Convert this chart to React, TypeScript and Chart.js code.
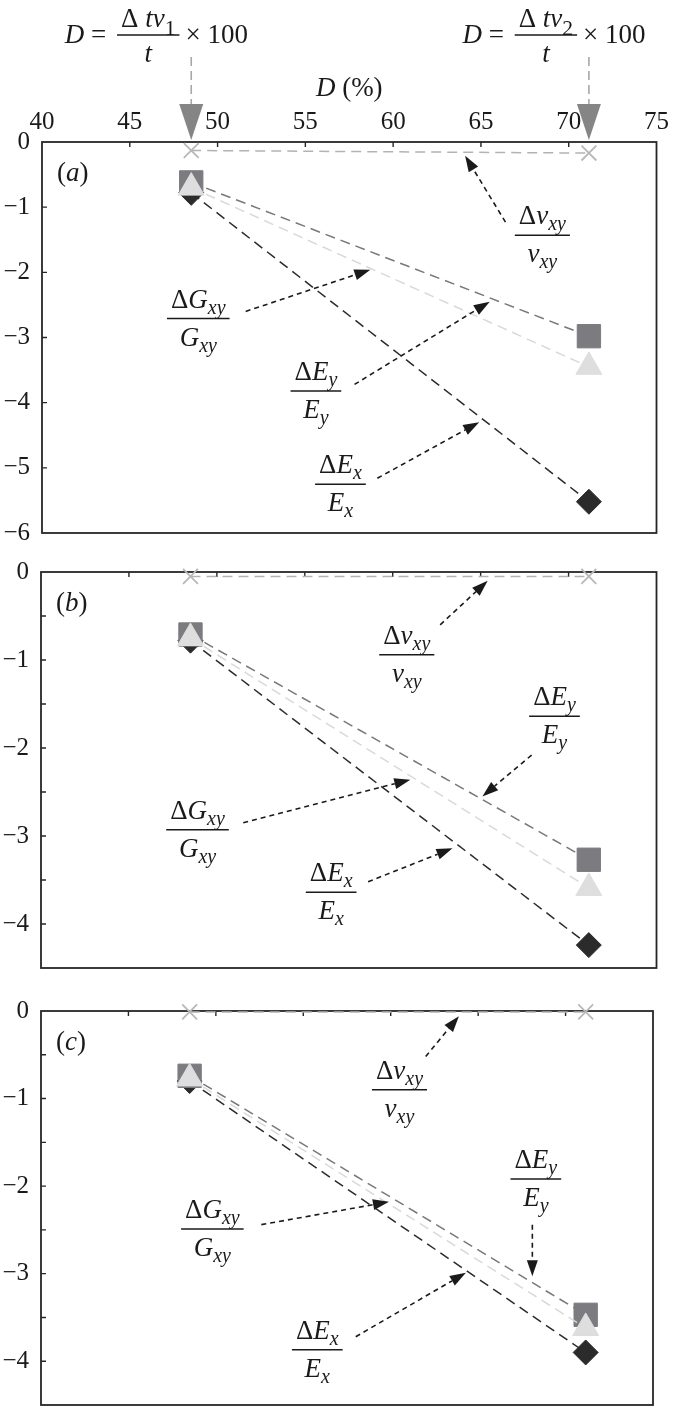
import React, { useEffect, useRef } from "react";
import { Chart, registerables } from "chart.js";

Chart.register(...registerables);

// ---------- data ----------
const D_VALUES = [48.5, 71.15]; // D (%) of the two cases
const X_TICKS = [40, 45, 50, 55, 60, 65, 70, 75];
const Y_TICKS_A = [-6, -5, -4, -3, -2, -1, 0];
const Y_TICKS_BC = [-4, -3, -2, -1, 0];
const Y_MINOR_A: number[] = [];
const Y_MINOR_BC = [-0.5, -1.5, -2.5, -3.5];

const A_NU = [-0.13, -0.17];
const A_GXY = [-0.62, -2.98];
const A_EY = [-0.7, -3.45];
const A_EX = [-0.78, -5.52];

const B_NU = [-0.05, -0.05];
const B_GXY = [-0.71, -3.27];
const B_EY = [-0.75, -3.59];
const B_EX = [-0.78, -4.24];

const C_NU = [-0.01, -0.01];
const C_GXY = [-0.74, -3.47];
const C_EY = [-0.77, -3.62];
const C_EX = [-0.8, -3.9];

// annotation anchors (data coordinates): fraction bar centre
const A_LABELS = { nu: [68.5, -1.43], gxy: [48.9, -2.71], ey: [55.6, -3.82], ex: [57.0, -5.25] };
const B_LABELS = { nu: [60.8, -0.94], gxy: [48.9, -2.93], ey: [69.2, -1.64], ex: [56.5, -3.64] };
const C_LABELS = { nu: [60.5, -0.9], gxy: [49.8, -2.49], ey: [68.3, -1.92], ex: [55.8, -3.87] };

// annotation arrows (data coordinates): tail x, tail y, tip x, tip y
const A_ARROWS = [
  [66.4, -1.23, 64.1, -0.21],
  [51.6, -2.6, 58.7, -1.96],
  [57.8, -3.72, 65.5, -2.45],
  [59.1, -5.16, 64.9, -4.3],
];
const B_ARROWS = [
  [62.7, -0.6, 65.4, -0.1],
  [67.9, -2.08, 65.1, -2.55],
  [51.5, -2.85, 61.0, -2.36],
  [58.6, -3.52, 63.4, -3.14],
];
const C_ARROWS = [
  [62.0, -0.52, 63.9, -0.06],
  [68.1, -2.44, 68.1, -3.03],
  [52.6, -2.44, 59.9, -2.18],
  [58.0, -3.72, 64.3, -2.99],
];

// ---------- styles ----------
const FONT = '"Liberation Serif", "DejaVu Serif", serif';
const INK = "#1a1a1a";

type Seg = { t: string; it?: boolean; sub?: boolean };

const FRACS: Record<string, { num: Seg[]; den: Seg[] }> = {
  nu: {
    num: [{ t: "Δ" }, { t: "ν", it: true }, { t: "xy", it: true, sub: true }],
    den: [{ t: "ν", it: true }, { t: "xy", it: true, sub: true }],
  },
  gxy: {
    num: [{ t: "Δ" }, { t: "G", it: true }, { t: "xy", it: true, sub: true }],
    den: [{ t: "G", it: true }, { t: "xy", it: true, sub: true }],
  },
  ey: {
    num: [{ t: "Δ" }, { t: "E", it: true }, { t: "y", it: true, sub: true }],
    den: [{ t: "E", it: true }, { t: "y", it: true, sub: true }],
  },
  ex: {
    num: [{ t: "Δ" }, { t: "E", it: true }, { t: "x", it: true, sub: true }],
    den: [{ t: "E", it: true }, { t: "x", it: true, sub: true }],
  },
};

function segFont(s: Seg, size: number, subScale: number) {
  const px = s.sub ? size * subScale : size;
  return `${s.it ? "italic " : ""}${px}px ${FONT}`;
}
function segsWidth(ctx: CanvasRenderingContext2D, segs: Seg[], size: number, subScale: number) {
  let w = 0;
  for (const s of segs) {
    ctx.font = segFont(s, size, subScale);
    w += ctx.measureText(s.t).width;
  }
  return w;
}
function drawSegs(
  ctx: CanvasRenderingContext2D,
  segs: Seg[],
  x: number,
  y: number,
  size: number,
  subScale: number,
  subShift: number
) {
  ctx.textAlign = "left";
  ctx.textBaseline = "alphabetic";
  let cx = x;
  for (const s of segs) {
    ctx.font = segFont(s, size, subScale);
    ctx.fillText(s.t, cx, y + (s.sub ? subShift : 0));
    cx += ctx.measureText(s.t).width;
  }
  return cx;
}
function drawFrac(
  ctx: CanvasRenderingContext2D,
  cx: number,
  cy: number,
  num: Seg[],
  den: Seg[],
  o: { size: number; subScale: number; subShift: number; numOff: number; denOff: number; extra: number }
) {
  const wn = segsWidth(ctx, num, o.size, o.subScale);
  const wd = segsWidth(ctx, den, o.size, o.subScale);
  const L = Math.max(wn, wd) + o.extra;
  ctx.strokeStyle = INK;
  ctx.lineWidth = 1.5;
  ctx.setLineDash([]);
  ctx.beginPath();
  ctx.moveTo(cx - L / 2, cy);
  ctx.lineTo(cx + L / 2, cy);
  ctx.stroke();
  ctx.fillStyle = INK;
  drawSegs(ctx, num, cx - wn / 2, cy - o.numOff, o.size, o.subScale, o.subShift);
  drawSegs(ctx, den, cx - wd / 2, cy + o.denOff, o.size, o.subScale, o.subShift);
  return L;
}
function drawArrow(ctx: CanvasRenderingContext2D, x1: number, y1: number, x2: number, y2: number) {
  const ang = Math.atan2(y2 - y1, x2 - x1);
  const hl = 16;
  const hw = 5.5;
  const bx = x2 - hl * Math.cos(ang);
  const by = y2 - hl * Math.sin(ang);
  ctx.strokeStyle = INK;
  ctx.lineWidth = 1.6;
  ctx.setLineDash([5, 4]);
  ctx.beginPath();
  ctx.moveTo(x1, y1);
  ctx.lineTo(bx, by);
  ctx.stroke();
  ctx.setLineDash([]);
  ctx.fillStyle = INK;
  ctx.beginPath();
  ctx.moveTo(x2, y2);
  ctx.lineTo(bx + hw * Math.sin(ang), by - hw * Math.cos(ang));
  ctx.lineTo(bx - hw * Math.sin(ang), by + hw * Math.cos(ang));
  ctx.closePath();
  ctx.fill();
}

const PLOT_FRAC = { size: 27, subScale: 0.74, subShift: 6, numOff: 11, denOff: 27, extra: 8 };
const HEAD_FRAC = { size: 27, subScale: 0.8, subShift: 8, numOff: 8, denOff: 27, extra: 8 };

type PanelCfg = {
  id: string;
  tag: string;
  top: number;
  height: number;
  areaTop: number;
  axisW: number;
  rightPad: number;
  bottomPad: number;
  yMin: number;
  yTicks: number[];
  yMinor: number[];
  nu: number[];
  gxy: number[];
  ey: number[];
  ex: number[];
  labels: Record<string, number[]>;
  arrows: number[][];
  header: boolean;
};

const PANELS: PanelCfg[] = [
  {
    id: "a", tag: "a", top: 0, height: 560, areaTop: 142, axisW: 42, rightPad: 12, bottomPad: 23,
    yMin: -6, yTicks: Y_TICKS_A, yMinor: Y_MINOR_A,
    nu: A_NU, gxy: A_GXY, ey: A_EY, ex: A_EX, labels: A_LABELS, arrows: A_ARROWS, header: true,
  },
  {
    id: "b", tag: "b", top: 545, height: 450, areaTop: 27, axisW: 41, rightPad: 14, bottomPad: 26,
    yMin: -4.5, yTicks: Y_TICKS_BC, yMinor: Y_MINOR_BC,
    nu: B_NU, gxy: B_GXY, ey: B_EY, ex: B_EX, labels: B_LABELS, arrows: B_ARROWS, header: false,
  },
  {
    id: "c", tag: "c", top: 975, height: 460, areaTop: 36, axisW: 41, rightPad: 21, bottomPad: 30,
    yMin: -4.5, yTicks: Y_TICKS_BC, yMinor: Y_MINOR_BC,
    nu: C_NU, gxy: C_GXY, ey: C_EY, ex: C_EX, labels: C_LABELS, arrows: C_ARROWS, header: false,
  },
];

function pts(vals: number[]) {
  return D_VALUES.map((x, i) => ({ x, y: vals[i] }));
}

function makePlugin(cfg: PanelCfg) {
  return {
    id: "deco_" + cfg.id,
    beforeDatasetsDraw(chart: any) {
      const { ctx, chartArea: a, scales } = chart;
      const xs = scales.x;
      const ys = scales.y;
      ctx.save();
      ctx.strokeStyle = "#262626";
      ctx.lineWidth = 1.8;
      ctx.setLineDash([]);
      ctx.strokeRect(a.left, a.top, a.right - a.left, a.bottom - a.top);
      ctx.lineWidth = 1.4;
      ctx.beginPath();
      X_TICKS.forEach((v) => {
        if (v <= xs.min || v >= xs.max) return;
        const px = xs.getPixelForValue(v);
        ctx.moveTo(px, a.top);
        ctx.lineTo(px, a.top + 5);
      });
      cfg.yTicks.concat(cfg.yMinor).forEach((v) => {
        if (v >= ys.max || v <= ys.min) return;
        const py = ys.getPixelForValue(v);
        ctx.moveTo(a.left, py);
        ctx.lineTo(a.left + 5, py);
      });
      ctx.stroke();
      ctx.restore();
    },
    afterDraw(chart: any) {
      const { ctx, chartArea: a, scales } = chart;
      const xs = scales.x;
      const ys = scales.y;
      ctx.save();
      // panel tag
      ctx.fillStyle = INK;
      drawSegs(ctx, [{ t: "(" }, { t: cfg.tag, it: true }, { t: ")" }], a.left + 15, a.top + 39, 27, 1, 0);
      // fractions
      Object.keys(cfg.labels).forEach((k) => {
        const [lx, ly] = cfg.labels[k];
        drawFrac(ctx, xs.getPixelForValue(lx), ys.getPixelForValue(ly), FRACS[k].num, FRACS[k].den, PLOT_FRAC);
      });
      // arrows
      cfg.arrows.forEach(([x1, y1, x2, y2]) => {
        drawArrow(ctx, xs.getPixelForValue(x1), ys.getPixelForValue(y1), xs.getPixelForValue(x2), ys.getPixelForValue(y2));
      });
      // header
      if (cfg.header) {
        D_VALUES.forEach((d, i) => {
          const ax = xs.getPixelForValue(d);
          const barY = a.top - 107;
          ctx.strokeStyle = "#a8a8a8";
          ctx.lineWidth = 1.6;
          ctx.setLineDash([9, 5]);
          ctx.beginPath();
          ctx.moveTo(ax, a.top - 85);
          ctx.lineTo(ax, a.top - 38);
          ctx.stroke();
          ctx.setLineDash([]);
          ctx.fillStyle = "#858585";
          ctx.beginPath();
          ctx.moveTo(ax - 12, a.top - 38);
          ctx.lineTo(ax + 12, a.top - 38);
          ctx.lineTo(ax, a.top - 2);
          ctx.closePath();
          ctx.fill();
          const fcx = ax - 43;
          const num: Seg[] = [{ t: "Δ" }, { t: " " }, { t: "tv", it: true }, { t: String(i + 1), sub: true }];
          const den: Seg[] = [{ t: "t", it: true }];
          const L = drawFrac(ctx, fcx, barY, num, den, HEAD_FRAC);
          const left: Seg[] = [{ t: "D", it: true }, { t: " = " }];
          const wl = segsWidth(ctx, left, 27, 1);
          ctx.fillStyle = INK;
          drawSegs(ctx, left, fcx - L / 2 - 4 - wl, barY + 8, 27, 1, 0);
          drawSegs(ctx, [{ t: "× 100" }], fcx + L / 2 + 6, barY + 8, 27, 1, 0);
        });
        const axisTitle: Seg[] = [{ t: "D", it: true }, { t: " (%)" }];
        const wt = segsWidth(ctx, axisTitle, 27, 1);
        ctx.fillStyle = INK;
        drawSegs(ctx, axisTitle, (a.left + a.right) / 2 - wt / 2, a.top - 46, 27, 1, 0);
      }
      ctx.restore();
    },
  };
}

function buildChart(canvas: HTMLCanvasElement, cfg: PanelCfg) {
  const common = { borderWidth: 1.5, borderDash: [10, 6], clip: false as any, pointBorderWidth: 1 };
  return new Chart(canvas, {
    type: "line",
    data: {
      datasets: [
        {
          ...common,
          label: "ΔEy/Ey",
          data: pts(cfg.ey),
          borderColor: "#d9d9d9",
          pointStyle: "triangle",
          pointRadius: 15,
          pointBackgroundColor: "#dedede",
          pointBorderColor: "#dedede",
        },
        {
          ...common,
          label: "ΔGxy/Gxy",
          data: pts(cfg.gxy),
          borderColor: "#78787c",
          pointStyle: "rect",
          pointRadius: 16.5,
          pointBackgroundColor: "#7b7b80",
          pointBorderColor: "#7b7b80",
        },
        {
          ...common,
          label: "ΔEx/Ex",
          data: pts(cfg.ex),
          borderColor: "#2b2b2b",
          pointStyle: "rectRot",
          pointRadius: 12.5,
          pointBackgroundColor: "#2b2b2b",
          pointBorderColor: "#2b2b2b",
        },
        {
          ...common,
          label: "Δνxy/νxy",
          data: pts(cfg.nu),
          borderColor: "#b3b3b3",
          pointStyle: "crossRot",
          pointRadius: 10.5,
          pointBorderWidth: 1.8,
          pointBackgroundColor: "#b8b8b8",
          pointBorderColor: "#b8b8b8",
        },
      ],
    },
    options: {
      animation: false,
      responsive: false,
      events: [],
      layout: { padding: { left: 0, right: cfg.rightPad, top: 0, bottom: cfg.bottomPad } },
      plugins: { legend: { display: false }, tooltip: { enabled: false } },
      scales: {
        x: {
          type: "linear",
          position: "top",
          min: 40,
          max: 75,
          afterBuildTicks: (s: any) => {
            s.ticks = X_TICKS.map((v) => ({ value: v }));
          },
          afterFit: (s: any) => {
            s.height = cfg.areaTop;
          },
          ticks: {
            display: cfg.header,
            autoSkip: false,
            maxRotation: 0,
            padding: 5,
            color: INK,
            font: { family: FONT, size: 25 },
          },
          grid: { display: false, drawTicks: false },
          border: { display: false },
        },
        y: {
          type: "linear",
          min: cfg.yMin,
          max: 0,
          afterBuildTicks: (s: any) => {
            s.ticks = cfg.yTicks.map((v) => ({ value: v }));
          },
          afterFit: (s: any) => {
            s.width = cfg.axisW;
          },
          ticks: {
            padding: 12,
            color: INK,
            font: { family: FONT, size: 25 },
            callback: (v: any) => String(v).replace("-", "\u2212"),
          },
          grid: { display: false, drawTicks: false },
          border: { display: false },
        },
      },
    } as any,
    plugins: [makePlugin(cfg)],
  });
}

function Panel({ cfg }: { cfg: PanelCfg }) {
  const ref = useRef<HTMLCanvasElement | null>(null);
  useEffect(() => {
    let chart: Chart | null = null;
    let cancelled = false;
    const make = () => {
      if (cancelled || !ref.current) return;
      chart = buildChart(ref.current, cfg);
    };
    const fonts = (document as any).fonts;
    if (fonts && fonts.load) {
      Promise.all([
        fonts.load(`25px ${FONT}`, "0123456789"),
        fonts.load(`italic 27px ${FONT}`, "DGEνxy"),
      ]).then(make, make);
    } else {
      make();
    }
    return () => {
      cancelled = true;
      if (chart) chart.destroy();
    };
  }, [cfg]);
  return (
    <canvas
      ref={ref}
      width={674}
      height={cfg.height}
      style={{ position: "absolute", left: 0, top: cfg.top, width: 674, height: cfg.height }}
    />
  );
}

export default function App() {
  return (
    <div
      style={{
        position: "absolute",
        left: 0,
        top: 0,
        width: 674,
        height: 1409,
        overflow: "hidden",
        background: "#ffffff",
        fontFamily: FONT,
      }}
    >
      <span style={{ position: "absolute", left: -9999, top: 0, fontFamily: FONT }}>
        0 <i>D</i>
      </span>
      {PANELS.map((p) => (
        <Panel key={p.id} cfg={p} />
      ))}
    </div>
  );
}
